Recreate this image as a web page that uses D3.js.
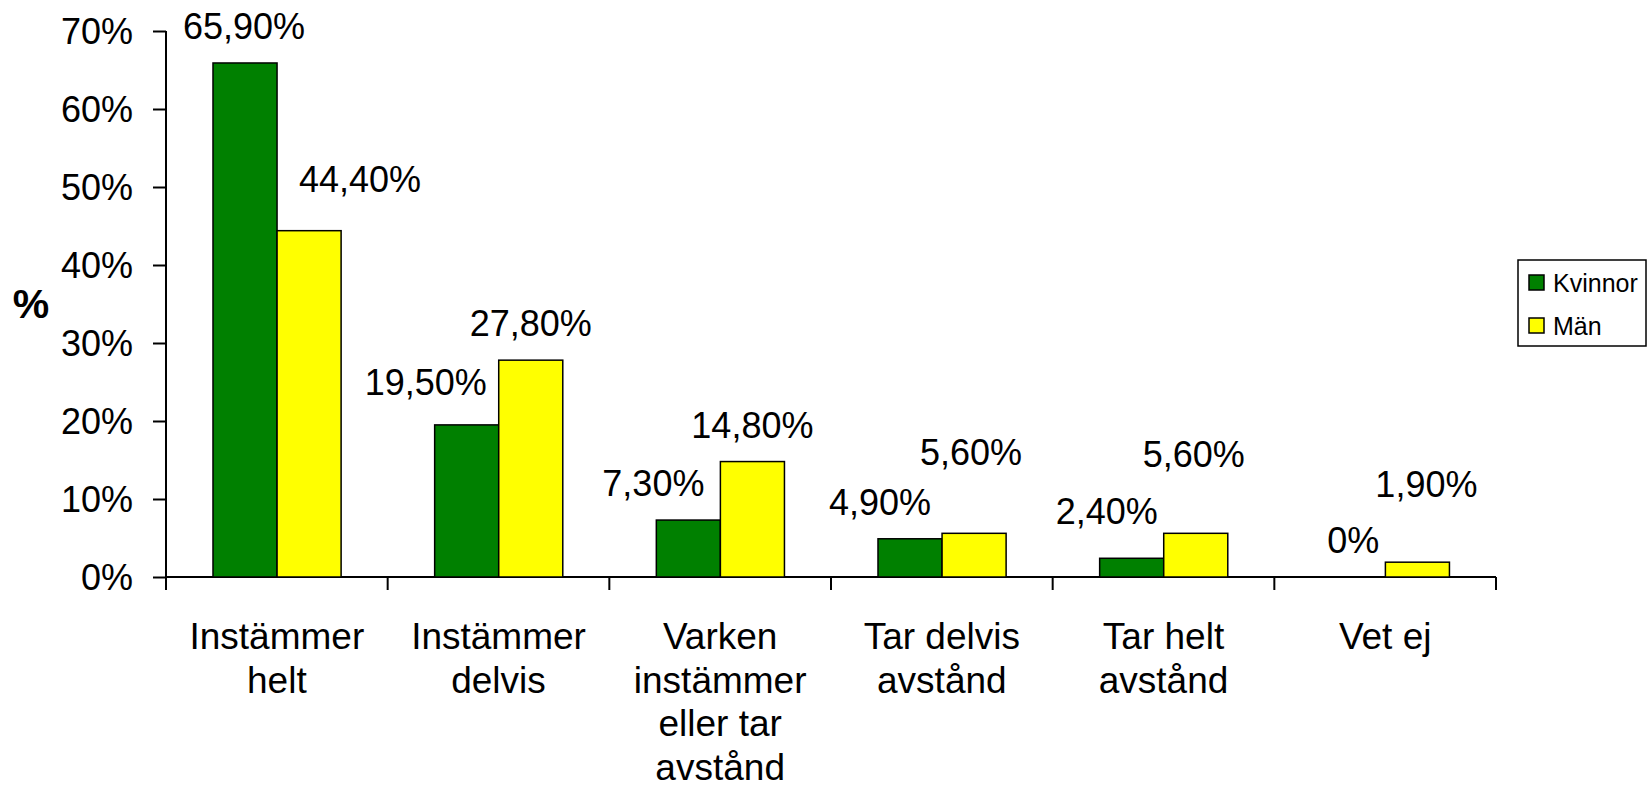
<!DOCTYPE html>
<html>
<head>
<meta charset="utf-8">
<script src="https://cdn.jsdelivr.net/npm/d3@7"></script>
<style>
  body { margin: 0; background: #fff; }
  text { font-family: "Liberation Sans", Arial, sans-serif; fill: #000; }
</style>
</head>
<body>
<div id="chart"></div>
<script>
// Categories (answer options) and the two series, in percent
const categories = [
    ["Instämmer", "helt"],
    ["Instämmer", "delvis"],
    ["Varken", "instämmer", "eller tar", "avstånd"],
    ["Tar delvis", "avstånd"],
    ["Tar helt", "avstånd"],
    ["Vet ej"]
];
const seriesNames = ["Kvinnor", "Män"];
const kvinnor = [65.9, 19.5, 7.3, 4.9, 2.4, 0];
const man = [44.4, 27.8, 14.8, 5.6, 5.6, 1.9];
const yTicks = [0, 10, 20, 30, 40, 50, 60, 70];

// Hand-moved data labels in the original (px offsets from default spot)
const kvinnorLabelShift = [[-1, 0], [-41, -6], [-35, 0], [-30, 0], [-25, -10], [0, 0]];
const manLabelShift = [[51, -15], [0, 0], [0, 0], [-3, -44], [-2, -42], [9, -41]];

const colors = {"Kvinnor": "#008000", "Män": "#ffff00"};

const W = 1649, H = 791;
const margin = {top: 31, left: 166, right: 153, bottom: 214};
const width = W - margin.left - margin.right,
      height = H - margin.top - margin.bottom;

const svg = d3.select("#chart").append("svg")
    .attr("width", W)
    .attr("height", H);

const g = svg.append("g")
    .attr("transform", `translate(${margin.left},${margin.top})`);

const x0 = d3.scaleBand()
    .domain(d3.range(categories.length))
    .range([0, width])
    .padding(0);

const x1 = d3.scaleBand()
    .domain(seriesNames)
    .range([x0.bandwidth() * 0.212, x0.bandwidth() * 0.79]);

const y = d3.scaleLinear()
    .domain([0, 70])
    .range([height, 0]);

// y axis
const yAxis = g.append("g")
    .call(d3.axisLeft(y)
        .tickValues(yTicks)
        .tickSize(13)
        .tickPadding(20)
        .tickFormat(d => d + "%"));
yAxis.select(".domain").attr("d", `M0,${y(70)}V${height}`).attr("stroke-width", 2);
yAxis.selectAll(".tick line").attr("stroke-width", 2);
yAxis.selectAll(".tick text").style("font-size", "36px").attr("dy", "0.36em");

// x axis: ticks on category boundaries
const xAxis = g.append("g")
    .attr("transform", `translate(0,${height})`);
xAxis.append("line")
    .attr("x1", 0).attr("x2", width)
    .attr("stroke", "#000").attr("stroke-width", 2);
xAxis.selectAll(".xtick")
    .data(d3.range(categories.length + 1))
    .enter().append("line")
    .attr("x1", d => d * x0.bandwidth())
    .attr("x2", d => d * x0.bandwidth())
    .attr("y1", 0).attr("y2", 13)
    .attr("stroke", "#000").attr("stroke-width", 2);

// category labels, one line per text
const catGroups = xAxis.selectAll(".cat")
    .data(categories)
    .enter().append("g")
    .attr("transform", (d, i) => `translate(${x0(i) + x0.bandwidth() / 2},0)`);
catGroups.selectAll("text")
    .data(d => d)
    .enter().append("text")
    .attr("text-anchor", "middle")
    .style("font-size", "37px")
    .attr("y", (d, i) => 72 + i * 43.5)
    .text(d => d);

// bars
const rows = categories.map((c, i) => ({
    i: i,
    vals: [
        {name: "Kvinnor", v: kvinnor[i], shift: kvinnorLabelShift[i]},
        {name: "Män", v: man[i], shift: manLabelShift[i]}
    ]
}));

const groups = g.selectAll(".group")
    .data(rows)
    .enter().append("g")
    .attr("transform", d => `translate(${x0(d.i)},0)`);

groups.selectAll("rect")
    .data(d => d.vals)
    .enter().append("rect")
    .filter(d => d.v > 0)
    .attr("x", d => x1(d.name))
    .attr("y", d => y(d.v))
    .attr("width", x1.bandwidth())
    .attr("height", d => height - y(d.v))
    .attr("fill", d => colors[d.name])
    .attr("stroke", "#000")
    .attr("stroke-width", 1.5);

groups.selectAll(".lbl")
    .data(d => d.vals)
    .enter().append("text")
    .attr("text-anchor", "middle")
    .style("font-size", "36px")
    .attr("x", d => x1(d.name) + x1.bandwidth() / 2 + d.shift[0])
    .attr("y", d => y(d.v) - 24 + d.shift[1])
    .text(d => String(d.v === 0 ? "0" : d.v.toFixed(2)).replace(".", ",") + "%");

// axis title
svg.append("text")
    .attr("x", 31)
    .attr("y", 318)
    .attr("text-anchor", "middle")
    .style("font-size", "41px")
    .style("font-weight", "bold")
    .text("%");

// legend
const legend = svg.append("g").attr("transform", "translate(1518,260)");
legend.append("rect")
    .attr("width", 128).attr("height", 86)
    .attr("fill", "#fff").attr("stroke", "#000").attr("stroke-width", 1.5);
const items = legend.selectAll(".item")
    .data(seriesNames)
    .enter().append("g")
    .attr("transform", (d, i) => `translate(11,${15 + i * 43})`);
items.append("rect")
    .attr("width", 15).attr("height", 15)
    .attr("fill", d => colors[d])
    .attr("stroke", "#000").attr("stroke-width", 1.5);
items.append("text")
    .attr("x", 24).attr("y", 17)
    .style("font-size", "25px")
    .text(d => d);
</script>
</body>
</html>
